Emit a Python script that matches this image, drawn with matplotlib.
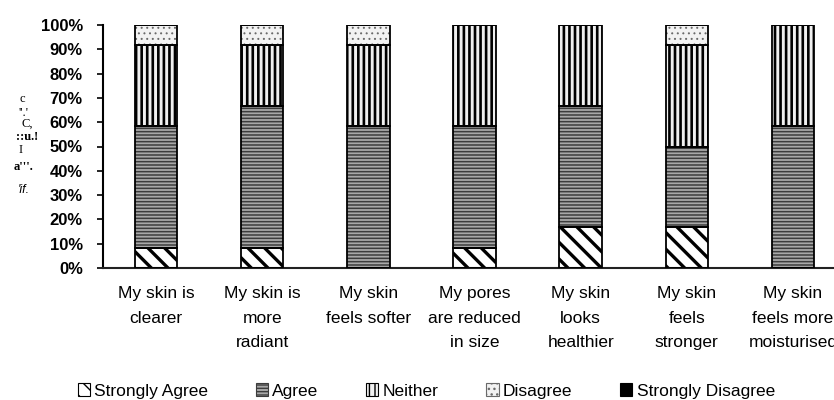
import numpy as np
import matplotlib
matplotlib.use("Agg")
import matplotlib.pyplot as plt
from matplotlib.patches import Patch
from matplotlib.ticker import FuncFormatter

# ── Data (percent of respondents) ──────────────────────
statements = ["My skin is\nclearer", "My skin is\nmore\nradiant",
              "My skin\nfeels softer", "My pores\nare reduced\nin size",
              "My skin\nlooks\nhealthier", "My skin\nfeels\nstronger",
              "My skin\nfeels more\nmoisturised"]
responses = ["Strongly Agree", "Agree", "Neither", "Disagree", "Strongly Disagree"]

strongly_agree    = [8.33, 8.33, 0.0, 8.33, 16.67, 16.67, 0.0]
agree             = [50.0, 58.33, 58.33, 50.0, 50.0, 33.33, 58.33]
neither           = [33.33, 25.0, 33.33, 41.67, 33.33, 41.67, 41.67]
disagree          = [8.33, 8.33, 8.33, 0.0, 0.0, 8.33, 0.0]
strongly_disagree = [0.0, 0.0, 0.0, 0.0, 0.0, 0.0, 0.0]

yticks = [0, 10, 20, 30, 40, 50, 60, 70, 80, 90, 100]

# ── Style ──────────────────────────────────────────────
plt.rcParams["font.family"] = ["Liberation Sans", "DejaVu Sans"]

# face colour, hatch, hatch colour, hatch line width
styles = {
    "Strongly Agree":    ("white",   "\\\\",  "black",   2.4),
    "Agree":             ("#a8a8a8", "-----", "#3c3c3c", 1.1),
    "Neither":           ("#f0f0f0", "|||",   "black",   1.9),
    "Disagree":          ("#f2f2f2", "...",   "#6a6a6a", 0.7),
    "Strongly Disagree": ("black",   None,    "black",   1.0),
}

fig = plt.figure(figsize=(8.34, 4.0), dpi=100)
ax = fig.add_axes([103 / 834, 0.33, (846 - 103) / 834, 0.6075])

x = np.arange(len(statements))
series = [strongly_agree, agree, neither, disagree, strongly_disagree]
bottom = np.zeros(len(statements))
handles = []
for name, vals in zip(responses, series):
    vals = np.array(vals)
    face, hatch, hcol, hlw = styles[name]
    with plt.rc_context({"hatch.linewidth": hlw}):
        # hatch fill (edge colour drives the hatch colour)
        bars = ax.bar(x, vals, width=0.4, bottom=bottom, facecolor=face,
                      hatch=hatch, edgecolor=hcol, linewidth=0, zorder=2)
        h = Patch(facecolor=face, hatch=hatch, edgecolor=hcol, linewidth=0.8,
                  label=name)
    for b in list(bars) + [h]:
        if hasattr(b, "set_hatch_linewidth"):
            b.set_hatch_linewidth(hlw)
    # black outline on top
    ax.bar(x, vals, width=0.4, bottom=bottom, fill=False,
           edgecolor="black", linewidth=1.3, zorder=3)
    bottom += vals
    handles.append(h)

ax.set_xlim(-0.5, 6.5)
ax.set_ylim(0, 100)
ax.set_yticks(yticks)
ax.yaxis.set_major_formatter(FuncFormatter(lambda v, p: f"{v:.0f}%"))
for lbl in ax.get_yticklabels():
    lbl.set_fontweight("bold")
    lbl.set_fontsize(12)
ax.tick_params(axis="y", direction="out", length=4.5, width=1.2, pad=10)
ax.set_xticks(x)
ax.set_xticklabels(statements, fontsize=12.5, linespacing=1.8)
ax.tick_params(axis="x", length=0, pad=13)
for s in ("top", "right"):
    ax.spines[s].set_visible(False)
ax.spines["left"].set_linewidth(1.5)
ax.spines["bottom"].set_linewidth(1.5)
ax.spines["bottom"].set_color("#222222")

# scanned-looking axis title fragments
for txt, xx, yy, kw in [("c", 19, 99, {}), ("''.'", 18, 113, {}), ("C,", 21, 124, {}),
                        ("::u.!", 16, 137, {"fontweight": "bold"}), ("I", 19, 150, {}),
                        ("a'''.", 14, 167, {"fontweight": "bold"}),
                        ("'if.", 18, 190, {"style": "italic", "family": "Liberation Sans"})]:
    fig.text(xx / 834, 1 - yy / 400, txt, fontsize=9, va="center", ha="left",
             family=kw.pop("family", "Liberation Serif"), **kw)

fig.legend(handles=handles, loc="center", bbox_to_anchor=(0.511, 1 - 391 / 400),
           ncol=5, frameon=False, handlelength=0.7, handleheight=0.7,
           handletextpad=0.25, columnspacing=2.75, prop={"size": 12.5})

fig.savefig("out.png", dpi=100)
